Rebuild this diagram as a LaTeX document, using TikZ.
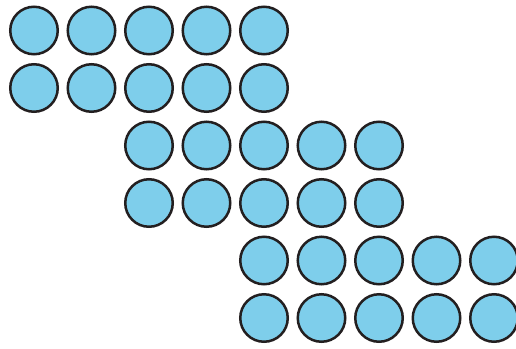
\documentclass[tikz,border=0pt]{standalone}
\definecolor{ballfill}{HTML}{7ECEEB}
\definecolor{ballline}{HTML}{231F20}
\tikzset{
  ball/.style={circle, draw=ballline, fill=ballfill, line width=2.5pt,
    minimum size=47.5pt, inner sep=0pt, outer sep=0pt}
}
\begin{document}
\begin{tikzpicture}[x=1pt,y=-1pt]
\useasboundingbox (0,0) rectangle (516,348);
\clip (0,0) rectangle (516,348);
% rows 1-2: columns 0..4
\foreach \r in {0,1} {
  \foreach \c in {0,...,4} {
    \node[ball] (b\r\c) at ({34+57.5*\c},{30.5+57.5*\r}) {};
  }
}
% rows 3-4: columns 2..6
\foreach \r in {2,3} {
  \foreach \c in {2,...,6} {
    \node[ball] (b\r\c) at ({34+57.5*\c},{30.5+57.5*\r}) {};
  }
}
% rows 5-6: columns 4..8
\foreach \r in {4,5} {
  \foreach \c in {4,...,8} {
    \node[ball] (b\r\c) at ({34+57.5*\c},{30.5+57.5*\r}) {};
  }
}
\end{tikzpicture}
\end{document}
